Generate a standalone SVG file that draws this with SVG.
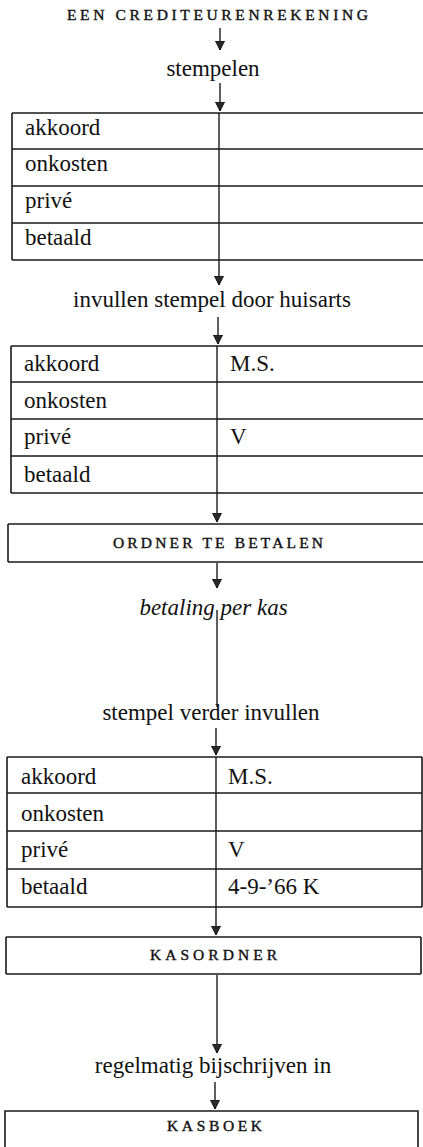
<svg xmlns="http://www.w3.org/2000/svg" width="423" height="1147" viewBox="0 0 423 1147">
<style>
  .bg{fill:#fff}
  .ln{stroke:#1a1a1a;stroke-width:1.6;fill:none}
  .cn{stroke:#1a1a1a;stroke-width:1.4;fill:none}
  .t{font-family:"Liberation Serif","Times New Roman",serif;font-size:23px;fill:#111}
  .c{text-anchor:middle}
  .i{font-style:italic}
  .sc{font-family:"Liberation Serif","Times New Roman",serif;font-size:15.5px;fill:#111;stroke:#111;stroke-width:0.4;text-anchor:middle}
</style>
<defs>
  <marker id="ah" viewBox="0 -5 10 10" refX="9" refY="0" markerUnits="userSpaceOnUse" markerWidth="10" markerHeight="10" orient="auto">
    <path d="M0,-4.5 L9,0 L0,4.5 Z" fill="#2a2a2a" stroke="#111" stroke-width="1"/>
  </marker>
</defs>
<rect class="bg" x="0" y="0" width="423" height="1147"/>

<g id="title">
  <text class="sc" x="217.5" y="20" textLength="301" lengthAdjust="spacing">EEN CREDITEURENREKENING</text>
</g>
<g id="stempelen">
  <text class="t c" x="213" y="76">stempelen</text>
</g>

<g id="table1">
  <path class="ln" d="M12,113 H423 M12,149 H423 M12,186 H423 M12,223 H423 M12,260 H423 M12,113 V260"/>
  <text class="t" x="25" y="135">akkoord</text>
  <text class="t" x="25" y="171">onkosten</text>
  <text class="t" x="25" y="208">privé</text>
  <text class="t" x="25" y="245">betaald</text>
</g>

<g id="invullen">
  <text class="t c" x="212" y="307">invullen stempel door huisarts</text>
</g>

<g id="table2">
  <path class="ln" d="M11,346 H423 M11,382 H423 M11,419 H423 M11,456 H423 M11,493 H423 M11,346 V493"/>
  <text class="t" x="24" y="371">akkoord</text>
  <text class="t" x="24" y="408">onkosten</text>
  <text class="t" x="24" y="444">privé</text>
  <text class="t" x="24" y="482">betaald</text>
  <text class="t" x="230" y="371">M.S.</text>
  <text class="t" x="230" y="444">V</text>
</g>

<g id="ordner-te-betalen">
  <path class="ln" d="M8,524 H423 M8,562 H423 M8,524 V562"/>
  <text class="sc" x="218" y="548" textLength="210" lengthAdjust="spacing">ORDNER TE BETALEN</text>
</g>

<g id="betaling">
  <text class="t c i" x="213.5" y="615">betaling per kas</text>
</g>

<g id="stempel-verder">
  <text class="t c" x="211" y="720">stempel verder invullen</text>
</g>

<g id="table3">
  <path class="ln" d="M7,757 H422 M7,793 H422 M7,831 H422 M7,869 H422 M7,907 H422 M7,757 V907 M422,757 V907"/>
  <text class="t" x="21" y="784">akkoord</text>
  <text class="t" x="21" y="821">onkosten</text>
  <text class="t" x="21" y="857">privé</text>
  <text class="t" x="21" y="894">betaald</text>
  <text class="t" x="228" y="784">M.S.</text>
  <text class="t" x="228" y="857">V</text>
  <text class="t" x="228" y="894">4-9-’66 K</text>
</g>

<g id="kasordner">
  <path class="ln" d="M6,937 H421 M6,974 H421 M6,937 V974 M421,937 V974"/>
  <text class="sc" x="213.5" y="960" textLength="127" lengthAdjust="spacing">KASORDNER</text>
</g>

<g id="regelmatig">
  <text class="t c" x="213" y="1073">regelmatig bijschrijven in</text>
</g>

<g id="kasboek">
  <path class="ln" d="M5,1147 V1111 H418 V1147"/>
  <text class="sc" x="214.5" y="1131" textLength="95" lengthAdjust="spacing">KASBOEK</text>
</g>

<g id="connectors">
  <line class="cn" x1="220" y1="28" x2="220" y2="50" marker-end="url(#ah)"/>
  <line class="cn" x1="220" y1="83" x2="220" y2="111" marker-end="url(#ah)"/>
  <line class="cn" x1="219" y1="113" x2="219" y2="285" marker-end="url(#ah)"/>
  <line class="cn" x1="218" y1="317" x2="218" y2="344" marker-end="url(#ah)"/>
  <line class="cn" x1="217" y1="346" x2="217" y2="522" marker-end="url(#ah)"/>
  <line class="cn" x1="217" y1="563" x2="217" y2="588" marker-end="url(#ah)"/>
  <line class="cn" x1="217" y1="610" x2="217" y2="707"/>
  <line class="cn" x1="216" y1="728" x2="216" y2="755" marker-end="url(#ah)"/>
  <line class="cn" x1="216" y1="757" x2="216" y2="935" marker-end="url(#ah)"/>
  <line class="cn" x1="217" y1="975" x2="217" y2="1053" marker-end="url(#ah)"/>
  <line class="cn" x1="215" y1="1082" x2="215" y2="1109" marker-end="url(#ah)"/>
</g>
</svg>
